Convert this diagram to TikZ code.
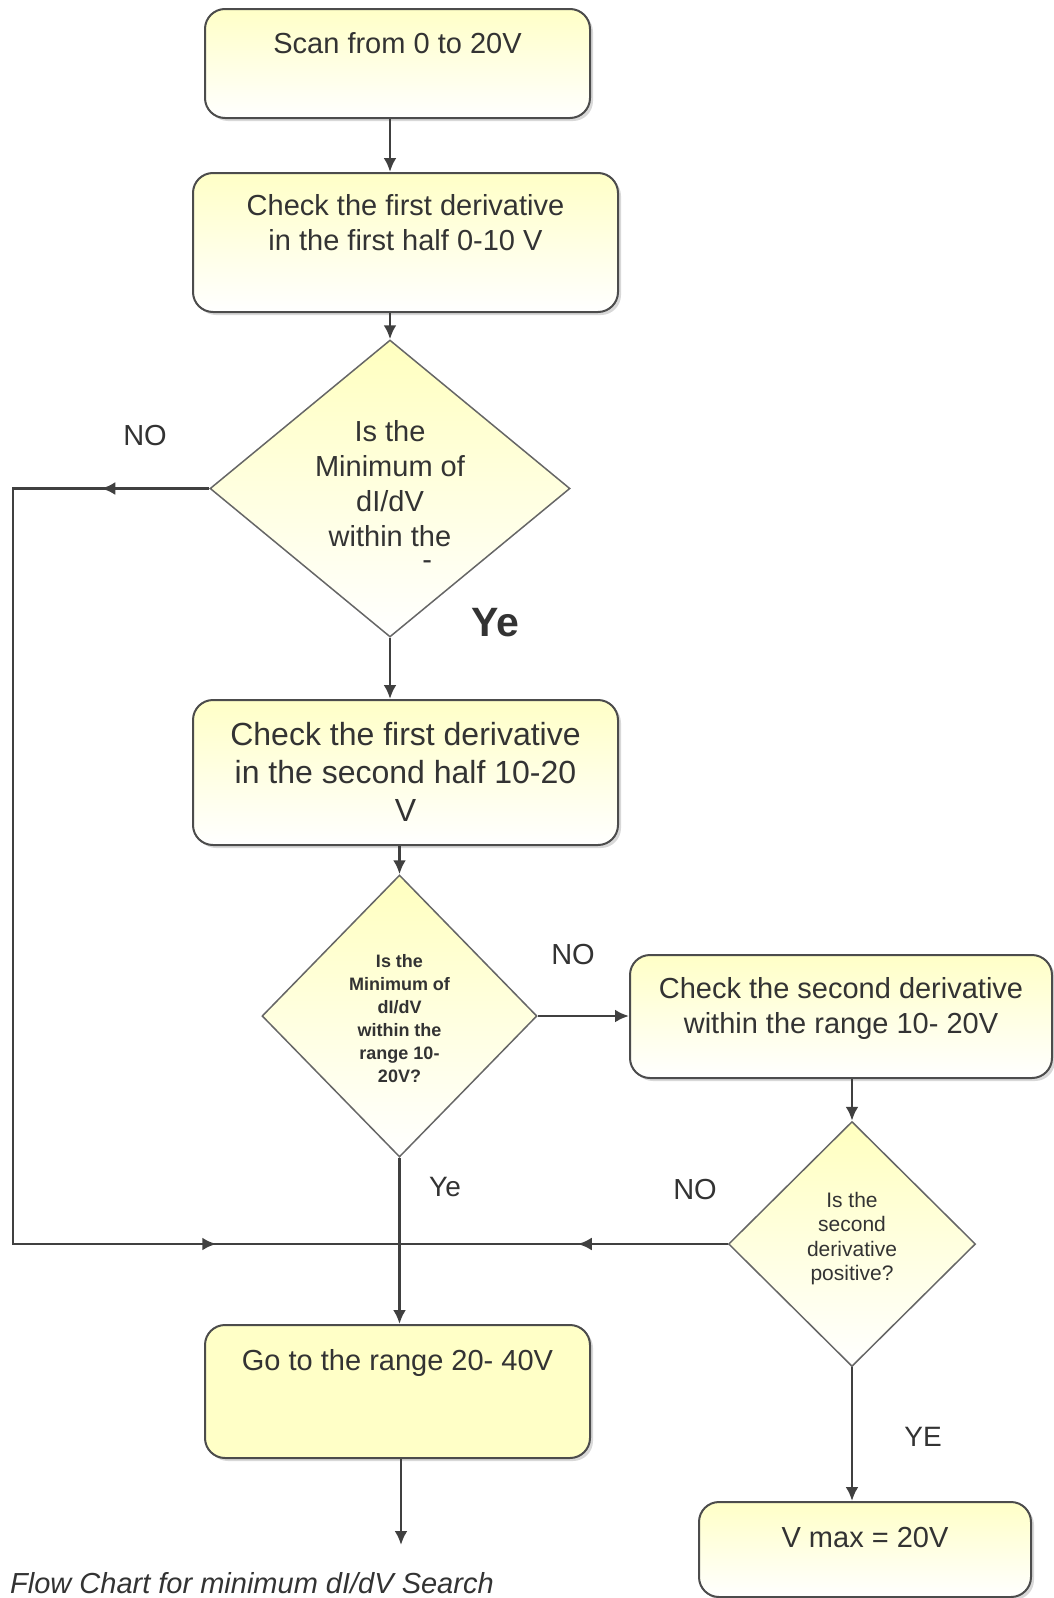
\documentclass[tikz,border=0pt]{standalone}
\usepackage{fontspec}
\setmainfont{Liberation Sans}
\usetikzlibrary{arrows.meta,shapes.geometric,shadows,decorations.markings}
\newcommand{\fs}[2]{\fontsize{#1}{#2}\selectfont}
\tikzstyle{stepbox}=[rectangle, rounded corners=20pt, draw=black!70, line width=2pt, top color=yellow!22, bottom color=white, drop shadow={shadow xshift=3pt, shadow yshift=-3pt, fill=black!30}, align=center, inner xsep=6pt, inner ysep=0pt, text=black!80, font=\fs{29}{35}]
\tikzstyle{decision}=[diamond, aspect=1, draw=black!60, line width=1.5pt, top color=yellow!25, bottom color=white, align=center, inner sep=0pt, text=black!80]
\tikzstyle{wire}=[draw=black!75, line width=2.8pt]
\tikzstyle{flow}=[wire, -{Latex[length=14pt, width=13pt]}]
\tikzstyle{answer}=[text=black!80, font=\fs{29}{35}]

\begin{document}
\begin{tikzpicture}[x=1pt, y=-1pt]
                    \useasboundingbox (0, 0) rectangle (1054, 1598);
                    \node[stepbox, minimum width=385pt, text height=44pt, text depth=65pt] (scan) at (397.5, 63.5) {Scan from 0 to 20V};
                    \node[stepbox, minimum width=425pt, text height=77pt, text depth=62pt] (check1) at (405.5, 242.5) {Check the first derivative\\in the first half 0-10 V};
                    \node[decision, aspect=1.2, minimum width=360pt, minimum height=297pt, text height=161pt, text depth=0pt, font=\fs{29}{35}] (dec1) at (390, 488.5) {Is the\\Minimum of\\dI/dV\\within the\\[-12pt]\hphantom{range}-};
                    \node[stepbox, minimum width=425pt, text height=121pt, text depth=24pt, font=\fs{32}{38}] (check2) at (405.5, 772.5) {Check the first derivative\\in the second half 10-20\\V};
                    \node[decision, minimum width=275pt, minimum height=282pt, text height=132pt, text depth=0pt, font=\fs{18}{23}\bfseries] (dec2) at (399.5, 1016) {Is the\\Minimum of\\dI/dV\\within the\\range 10-\\20V?};
                    \node[stepbox, minimum width=422pt, text height=78pt, text depth=45pt] (check3) at (841, 1016.5) {Check the second derivative\\within the range 10- 20V};
                    \node[decision, minimum width=247pt, minimum height=245pt, text height=73pt, text depth=0pt, font=\fs{21}{24.5}] (dec3) at (852, 1244) {Is the\\second\\derivative\\positive?};
                    \node[stepbox, minimum width=385pt, text height=45pt, text depth=88pt, middle color=white, bottom color=yellow!22] (goto) at (397.5, 1391.5) {Go to the range 20- 40V};
                    \node[stepbox, minimum width=332pt, text height=45pt, text depth=50pt] (vmax) at (865, 1549.5) {V max = 20V};
                    \node[answer] (no1) at (145, 436) {NO};
                    \node[answer, font=\bfseries\fs{41}{41}] (yes1) at (495, 623) {Ye};
                    \node[answer] (no2) at (573, 955) {NO};
                    \node[answer, font=\fs{28}{28}] (yes2) at (445, 1187) {Ye};
                    \node[answer] (no3) at (695, 1190) {NO};
                    \node[answer, font=\fs{28}{28}] (yes3) at (923, 1437) {YE};
                    \node[answer, font=\itshape\fs{29}{35}, anchor=west, inner sep=0pt] (caption) at (10, 1583) {Flow Chart for minimum dI/dV Search};
                    \coordinate (foot) at (13, 1244);
                    \coordinate (exit) at (401, 1545);
                    \draw[flow] (scan.south -| dec1.north) -- (check1.north -| dec1.north);
                    \draw[flow] (check1.south -| dec1.north) -- (dec1.north);
                    \draw[flow] (dec1.south) -- (check2.north -| dec1.south);
                    \draw[flow] (check2.south -| dec2.north) -- (dec2.north);
                    \draw[flow] (dec2.south) -- (goto.north -| dec2.south);
                    \draw[flow] (goto.south -| exit) -- (exit);
                    \draw[flow] (dec2.east) -- (dec2.east -| check3.west);
                    \draw[flow] (check3.south -| dec3.north) -- (dec3.north);
                    \draw[flow] (dec3.south) -- (vmax.north -| dec3.south);
                    \draw[wire, postaction={decorate}, decoration={markings,
                            mark=at position 108pt with {\arrow{Latex[length=14pt, width=13pt]}},
                            mark=at position 1155pt with {\arrow{Latex[length=14pt, width=13pt]}}}]
                        (dec1.west) -| (foot) -- (dec2.south |- foot);
                    \draw[wire, postaction={decorate}, decoration={markings,
                            mark=at position 150pt with {\arrow{Latex[length=14pt, width=13pt]}}}]
                        (dec3.west) -- (dec2.south |- dec3.west);
                \end{tikzpicture}
\end{document}
